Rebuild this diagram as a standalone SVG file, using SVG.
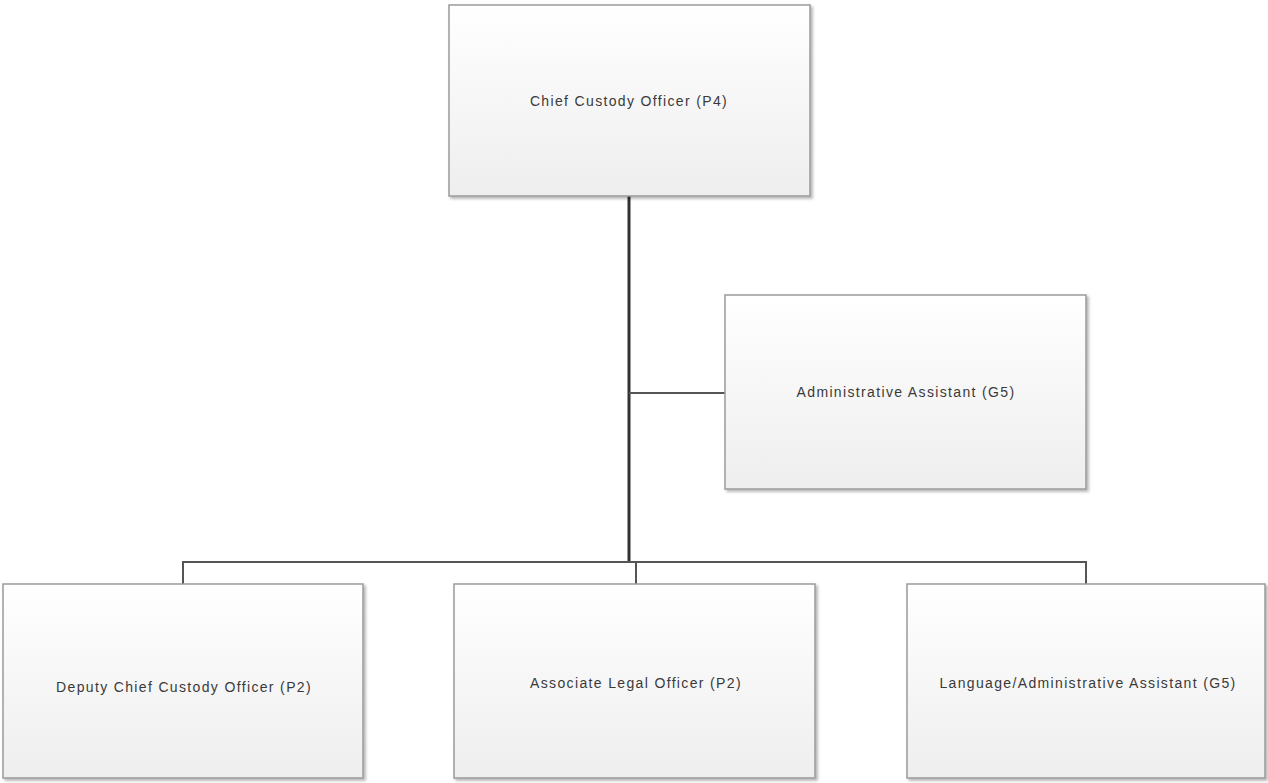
<svg xmlns="http://www.w3.org/2000/svg" width="1268" height="783" viewBox="0 0 1268 783">
  <defs>
    <linearGradient id="boxFill" x1="0" y1="0" x2="0" y2="1">
      <stop offset="0" stop-color="#ffffff"/>
      <stop offset="1" stop-color="#eeeeee"/>
    </linearGradient>
    <filter id="shadow" x="-5%" y="-5%" width="112%" height="115%">
      <feDropShadow dx="2" dy="2" stdDeviation="1.5" flood-color="#000" flood-opacity="0.3"/>
    </filter>
  </defs>
  <style>
    .box { fill: url(#boxFill); stroke: #9a9a9a; stroke-width: 1.5; filter: url(#shadow); }
    .label { font-family: "Liberation Sans", Arial, sans-serif; font-size: 14px; letter-spacing: 1.35px; fill: #3a3a3a; text-anchor: middle; dominant-baseline: central; }
    .trunk { stroke: #333; stroke-width: 3; fill: none; }
    .link { stroke: #555; stroke-width: 2; fill: none; }
  </style>
  <rect width="1268" height="783" fill="#ffffff"/>

  <!-- connectors -->
  <g id="connectors">
    <line class="trunk" x1="629" y1="196" x2="629" y2="563"/>
    <line class="link" x1="629" y1="393" x2="725" y2="393"/>
    <polyline class="link" points="183,584 183,562 1086,562 1086,584"/>
    <line class="link" x1="636" y1="562" x2="636" y2="584"/>
  </g>

  <g id="chief">
    <rect class="box" x="449" y="5" width="361" height="191"/>
    <text class="label" x="629" y="101">Chief Custody Officer (P4)</text>
  </g>

  <g id="admin-assistant">
    <rect class="box" x="725" y="295" width="361" height="194"/>
    <text class="label" x="906" y="392">Administrative Assistant (G5)</text>
  </g>

  <g id="deputy">
    <rect class="box" x="3" y="584" width="360" height="194"/>
    <text class="label" x="184" y="687">Deputy Chief Custody Officer (P2)</text>
  </g>

  <g id="associate-legal">
    <rect class="box" x="454" y="584" width="361" height="194"/>
    <text class="label" x="636" y="683">Associate Legal Officer (P2)</text>
  </g>

  <g id="language-assistant">
    <rect class="box" x="907" y="584" width="358" height="194"/>
    <text class="label" x="1088" y="683">Language/Administrative Assistant (G5)</text>
  </g>
</svg>
